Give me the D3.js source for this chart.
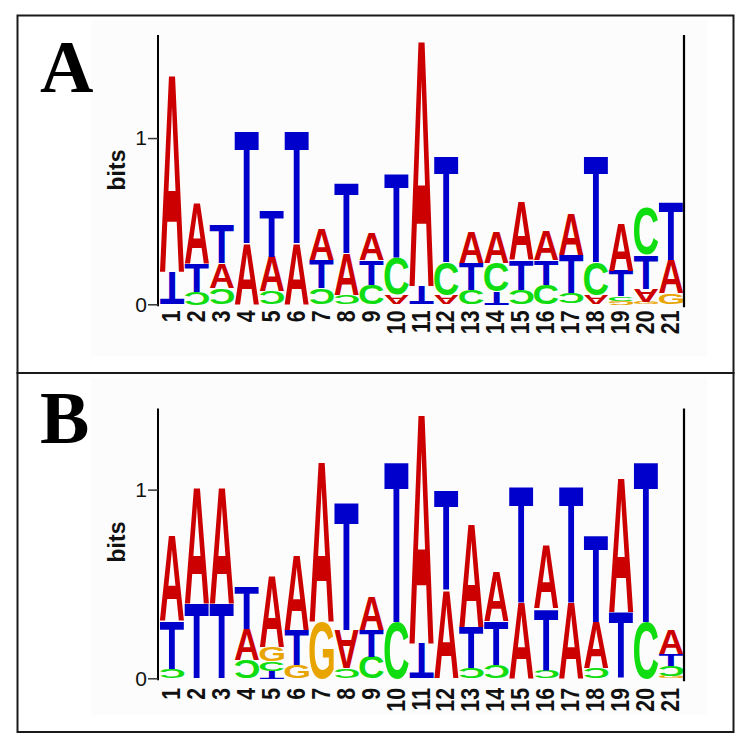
<!DOCTYPE html>
<html><head><meta charset="utf-8">
<script src="https://cdn.jsdelivr.net/npm/d3@7"></script>
<style>html,body{margin:0;padding:0;background:#fff;}svg{display:block;}</style>
</head><body>
<svg id="chart" width="750" height="749"></svg>
<script>
// ---- data (bits per nucleotide at each position) ----
const positions = d3.range(1, 22).map(String);
const bases = ["A", "C", "G", "T"];
const colors = {A: "#cc0000", C: "#10dd10", G: "#e8a400", T: "#0000cc"};

// Panel A
const panelA_A = [1.195,0.37,0.15,0.367,0.207,0.367,0.19,0.25,0.16,0.056,1.49,0.056,0.185,0.19,0.35,0.18,0.25,0.056,0.287,0.076,0.2];
const panelA_C = [0,0.076,0.096,0,0.08,0,0.096,0.056,0.116,0.225,0,0.2,0.086,0.17,0.086,0.116,0.066,0.2,0.025,0.287,0];
const panelA_G = [0,0,0,0,0,0,0,0,0,0,0,0,0,0,0,0,0,0,0.022,0.015,0.066];
const panelA_T = [0.196,0.17,0.237,0.683,0.28,0.683,0.17,0.42,0.15,0.51,0.11,0.64,0.165,0.076,0.18,0.15,0.23,0.64,0.155,0.205,0.35];
// letters drawn upside down (position + base)
const panelA_inverted = ["1T","2C","3C","5C","7C","8C","10A","11T","12A","14T","15C","17C","18A","19G","20A"];

// Panel B
const panelB_A = [0.455,0.623,0.623,0.162,0.379,0.397,0.855,0.208,0.176,0,1.226,0.467,0.55,0.261,0.406,0.335,0.406,0.247,0.714,0,0.132];
const panelB_C = [0.048,0,0,0.097,0.049,0,0,0.048,0.115,0.3,0,0,0.053,0.07,0,0.044,0,0.053,0,0.3,0.053];
const panelB_G = [0,0,0,0,0.079,0.07,0.3,0,0,0,0,0,0,0,0,0,0,0,0,0,0.012];
const panelB_T = [0.256,0.4,0.4,0.229,0.039,0.185,0,0.679,0.141,0.855,0.185,0.529,0.22,0.233,0.617,0.326,0.617,0.459,0.353,0.855,0.062];
const panelB_inverted = ["1C","4C","5T","8A","8C","11T","13C","14C","16C","18C","21C"];

const yTicks = [0, 1];

const panels = [
  {label: "A", data: {A: panelA_A, C: panelA_C, G: panelA_G, T: panelA_T}, inv: panelA_inverted, yMax: 1.62,
   box: [17.5, 15.5, 716, 357.5], y0: 304.3, yTop: 35, labY: 310.5, bitsY: 170, letterY: 92},
  {label: "B", data: {A: panelB_A, C: panelB_C, G: panelB_G, T: panelB_T}, inv: panelB_inverted, yMax: 1.43,
   box: [17.5, 373, 716, 359], y0: 678.3, yTop: 408.5, labY: 688, bitsY: 542, letterY: 443}
];

const svg = d3.select("#chart");
const FONT = "Liberation Sans, Arial, Helvetica, sans-serif";

// ink bounds of glyphs via canvas
const cnv = document.createElement("canvas").getContext("2d");
cnv.font = "bold 100px 'Liberation Sans'";
const ink = {};
bases.forEach(b => {
  const m = cnv.measureText(b);
  ink[b] = {l: m.actualBoundingBoxLeft, r: m.actualBoundingBoxRight,
            a: m.actualBoundingBoxAscent, d: m.actualBoundingBoxDescent};
});

const x = d3.scaleBand().domain(positions).range([159.5, 683.5]).padding(0);

panels.forEach(p => {
  const g = svg.append("g");
  // faint background of plot image
  g.append("rect").attr("x", 91).attr("y", p.box[1] + 5).attr("width", 616).attr("height", p.box[3] - 22)
    .attr("fill", "#fcfcfc");
  // border
  g.append("rect").attr("x", p.box[0]).attr("y", p.box[1]).attr("width", p.box[2]).attr("height", p.box[3])
    .attr("fill", "none").attr("stroke", "#1a1a1a").attr("stroke-width", 2);

  // panel letter
  g.append("text").attr("x", 40).attr("y", p.letterY).text(p.label)
    .attr("font-family", "Liberation Serif, Times New Roman, serif").attr("font-weight", "bold")
    .attr("font-size", 74).attr("fill", "#000");

  const y = d3.scaleLinear().domain([0, p.yMax]).range([p.y0, p.yTop]);
  const invSet = new Set(p.inv);

  // letters
  const lg = g.append("g");
  positions.forEach((pos, i) => {
    const stack = bases.map(b => ({b, v: p.data[b][i]})).filter(d => d.v > 0)
      .sort((a, c) => a.v - c.v);
    let cum = 0;
    stack.forEach(d => {
      const yb = y(cum), yt = y(cum + d.v);
      cum += d.v;
      const h = yb - yt;
      const w = x.bandwidth() - 0.6;
      const x0 = x(pos) + 0.3;
      const k = ink[d.b];
      const sx = w / (k.l + k.r), sy = h / (k.a + k.d);
      const tf = invSet.has(pos + d.b)
        ? `translate(${x0 + w},${yb}) scale(${-sx},${-sy}) translate(${k.l},${k.a})`
        : `translate(${x0},${yt}) scale(${sx},${sy}) translate(${k.l},${k.a})`;
      lg.append("text").text(d.b)
        .attr("font-family", "Liberation Sans").attr("font-weight", "bold").attr("font-size", 100)
        .attr("fill", colors[d.b])
        .attr("transform", tf);
    });
  });

  // left axis
  const axL = g.append("g").attr("transform", "translate(158,0)")
    .call(d3.axisLeft(y).tickValues(yTicks).tickFormat(d3.format("d")).tickSize(10).tickSizeOuter(0));
  axL.select(".domain").attr("stroke", "#000").attr("stroke-width", 2)
    .attr("d", `M0,${p.yTop}V${p.y0 + 2}`);
  axL.selectAll(".tick line").attr("stroke", "#333").attr("stroke-width", 1.5);
  axL.selectAll(".tick text").attr("font-family", FONT).attr("font-size", 21).attr("fill", "#111").attr("x", -11);

  // right axis line
  const axR = g.append("g").attr("transform", "translate(684,0)")
    .call(d3.axisRight(y).tickValues([]).tickSizeOuter(0));
  axR.select(".domain").attr("stroke", "#000").attr("stroke-width", 2.2)
    .attr("d", `M0,${p.yTop}V${p.y0 + 3}`);

  // position labels
  positions.forEach(pos => {
    g.append("text").text(pos)
      .attr("transform", `translate(${x(pos) + x.bandwidth() / 2 + 8},${p.labY}) rotate(-90) scale(0.85,1)`)
      .attr("text-anchor", "end")
      .attr("font-family", FONT).attr("font-weight", "bold").attr("font-size", 25).attr("fill", "#111");
  });

  // y label
  g.append("text").text("bits")
    .attr("transform", `translate(125,${p.bitsY}) rotate(-90)`)
    .attr("text-anchor", "middle")
    .attr("font-family", FONT).attr("font-weight", "bold").attr("font-size", 23).attr("fill", "#111");
});
</script>
</body></html>
